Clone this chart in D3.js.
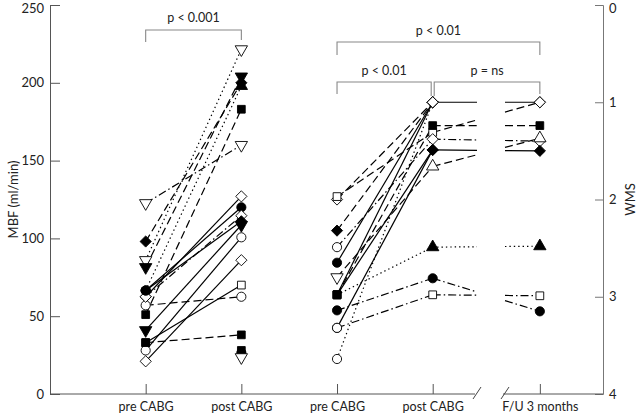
<!DOCTYPE html>
<html><head><meta charset="utf-8">
<script src="https://cdn.jsdelivr.net/npm/d3@7"></script>
<style>
html,body{margin:0;padding:0;background:#fff;}
svg{display:block;}
text{font-family:Lato,"Open Sans",sans-serif;fill:#222;}
</style></head>
<body><svg id="c" width="640" height="416"></svg>
<script>
// ---- data ----
const categories = ["pre CABG","post CABG","pre CABG","post CABG","F/U 3 months"];
const mbfTicks = [0,50,100,150,200,250];
const wmsTicks = [0,1,2,3,4];

// Group 1: MBF (ml/min), pre vs post CABG
const g1Pre  = [122.6, 98, 86, 81.5, 66.5, 62.5, 57, 51, 41, 33, 28, 21, 62.5, 66.5, 66.5, 33, null, null, null];
const g1Post = [160, 200, 221.5, 204, 120, 127, 62.5, 183, 108.6, 38, 100.7, 86, 114.6, 111, 198, 70, 28, 26.5, 23.6];
const g1PreSym  = ["tdo","df","tdo","tdf","cf","do","co","sf","tdf","sf","co","do","do","cf","cf","sf",null,null,null];
const g1PostSym = ["tdo","df","tdo","tdf","cf","do","co","sf","tdf","sf","co","do","do","df","tuf","so","sf","cf","tdo"];
const g1Dash    = ["dashdot","dash","dot","dash","solid","solid","dash","dash","solid","dash","solid","solid","dashdot","solid","dot","solid","solid","solid","solid"];

// Group 2: WMS, pre CABG, post CABG, F/U 3 months
const g2Pre  = [2.0, 1.97, 2.32, 2.49, 2.65, 2.80, 2.98, 2.98, 2.98, 2.98, 3.14, 3.32, 3.64, 3.32];
const g2Post = [1.0, 1.31, 1.0, 1.38, 1.0, 1.66, 1.24, 1.49, 1.0, 2.49, 2.81, 2.98, 1.0, 1.49];
const g2FU   = [null, 1.0, null, 1.40, 1.0, 1.37, 1.24, 1.5, null, 2.48, 3.15, 2.99, null, null];
const g2PreSym  = ["do","so","df","co","cf","tdo","sf","sf","sf","sf","cf","co","co","co"];
const g2PostSym = ["do","so","do","do","do","tuo","sf","df","do","tuf","cf","so","do","df"];
const g2FUSym   = [null,"do",null,"do","do","tuo","sf","df",null,"tuf","cf","so",null,null];
const g2Dash    = ["dash","dash","dash","dashdot","solid","dash","dash","solid","solid","dot","dashdot","dashdot","dot","solid"];

// ---- layout ----
const svg = d3.select("#c");
const L = 50, R = 603, T = 5, B = 394;
const fuIndex = 4.12; // F/U placed after axis break
const catIdx = categories.map((c,i)=> i===4 ? fuIndex : i);
const x = d3.scaleLinear().domain([-1, 4.78]).range([L, R]);
const yM = d3.scaleLinear().domain([0,250]).range([B, T]);
const yW = d3.scaleLinear().domain([0,4]).range([T, B]);
const breakA = 477, breakB = 505;

const dashes = {solid:null, dash:"8,4", dashdot:"8,3,1.5,3", dot:"1.4,3"};

function sym(code){
  const k = code[0];
  if(k==='d') return "M0,-5.6L5.6,0L0,5.6L-5.6,0Z";
  const t = k==='c' ? d3.symbolCircle : k==='s' ? d3.symbolSquare : d3.symbolTriangle;
  const size = k==='c' ? 66 : k==='s' ? 60 : 66;
  return d3.symbol().type(t).size(size)();
}
function drawMarker(g, code, px, py){
  if(!code) return;
  const filled = code[code.length-1]==='f';
  let rot = code.startsWith('td') ? 180 : 0;
  g.append("path").attr("d", sym(code))
    .attr("transform", `translate(${px},${py}) rotate(${rot})`)
    .attr("fill", filled ? "#000" : "#fff")
    .attr("stroke", "#000").attr("stroke-width", 0.9);
}

// ---- axes ----
const axG = svg.append("g");
const la = axG.append("g").attr("transform",`translate(${L},0)`)
  .call(d3.axisLeft(yM).tickValues(mbfTicks).tickSize(-10).tickPadding(6).tickFormat(d3.format("d")));
la.select(".domain").attr("stroke","#555");
la.selectAll(".tick line").attr("stroke","#555");
la.selectAll("text").style("font-size","13px").attr("fill","#222");
const ra = axG.append("g").attr("transform",`translate(${R},0)`)
  .call(d3.axisRight(yW).tickValues(wmsTicks).tickSize(-8).tickPadding(6).tickFormat(d3.format("d")));
ra.select(".domain").attr("stroke","#777");
ra.selectAll(".tick line").attr("stroke","#777");
ra.selectAll("text").style("font-size","13px").attr("fill","#222");
// keep the top labels inside the picture
la.selectAll(".tick").filter(d=>d===250).select("text").attr("dy","0.6em");
ra.selectAll(".tick").filter(d=>d===0).select("text").attr("dy","0.6em");
// bottom axis with break
const xa = axG.append("g").attr("transform",`translate(0,${B})`)
  .call(d3.axisBottom(x).tickValues(catIdx).tickSize(-10).tickPadding(8).tickFormat((d,i)=>categories[i]));
xa.select(".domain").remove();
xa.selectAll(".tick line").attr("stroke","#555");
xa.selectAll("text").style("font-size","12.5px").attr("fill","#222");
axG.append("line").attr("x1",L).attr("x2",breakA-2).attr("y1",B).attr("y2",B).attr("stroke","#555");
axG.append("line").attr("x1",breakB-2).attr("x2",R).attr("y1",B).attr("y2",B).attr("stroke","#555");
[breakA, breakB].forEach(bx=>{
  axG.append("line").attr("x1",bx-4).attr("y1",B+5).attr("x2",bx+4).attr("y2",B-7).attr("stroke","#444");
});
// axis titles
svg.append("text").attr("transform",`translate(13,${(T+B)/2}) rotate(-90)`).attr("text-anchor","middle")
  .attr("dy","0.35em").style("font-size","13px").text("MBF (ml/min)");
svg.append("text").attr("transform",`translate(630,${(T+B)/2}) rotate(-90)`).attr("text-anchor","middle")
  .attr("dy","0.35em").style("font-size","13px").text("WMS");

// ---- brackets ----
function bracket(x1, x2, yLine, yL, yR, label, yText){
  const g = svg.append("g");
  g.append("path").attr("d",`M${x1},${yL}V${yLine}H${x2}V${yR}`).attr("fill","none").attr("stroke","#888").attr("stroke-width",1.1);
  g.append("text").attr("x",(x1+x2)/2).attr("y",yText).attr("text-anchor","middle").attr("dy","0.35em")
    .style("font-size","12.5px").text(label);
}
bracket(x(0), x(1), 30, 42, 40, "p < 0.001", 18);
bracket(x(2), x(fuIndex), 42, 55, 55, "p < 0.01", 31);
bracket(x(2), x(3)-1.5, 82, 94, 96, "p < 0.01", 71);
bracket(x(3)+1.5, x(fuIndex), 82, 96, 94, "p = ns", 71);

// ---- lines ----
const lineG = svg.append("g");
function seg(x1,y1,x2,y2,dash){
  lineG.append("line").attr("x1",x1).attr("y1",y1).attr("x2",x2).attr("y2",y2)
    .attr("stroke","#000").attr("stroke-width",1.2).attr("stroke-dasharray",dashes[dash]);
}
g1Pre.forEach((v,i)=>{
  if(v==null || g1Post[i]==null) return;
  seg(x(0), yM(v), x(1), yM(g1Post[i]), g1Dash[i]);
});
g2Pre.forEach((v,i)=>{
  seg(x(2), yW(v), x(3), yW(g2Post[i]), g2Dash[i]);
  if(g2FU[i]!=null){
    const x1 = x(3), y1 = yW(g2Post[i]), x2 = x(fuIndex), y2 = yW(g2FU[i]);
    const yAt = xx => y1 + (y2-y1)*(xx-x1)/(x2-x1);
    seg(x1, y1, breakA, yAt(breakA), g2Dash[i]);
    seg(breakB, yAt(breakB), x2, y2, g2Dash[i]);
  }
});

// ---- markers ----
const mG = svg.append("g");
g1Pre.forEach((v,i)=>{ if(v!=null) drawMarker(mG, g1PreSym[i], x(0), yM(v)); });
g1Post.forEach((v,i)=>{ if(v!=null) drawMarker(mG, g1PostSym[i], x(1), yM(v)); });
g2Pre.forEach((v,i)=> drawMarker(mG, g2PreSym[i], x(2), yW(v)));
g2Post.forEach((v,i)=> drawMarker(mG, g2PostSym[i], x(3), yW(v)));
g2FU.forEach((v,i)=>{ if(v!=null) drawMarker(mG, g2FUSym[i], x(fuIndex), yW(v)); });
</script></body></html>
